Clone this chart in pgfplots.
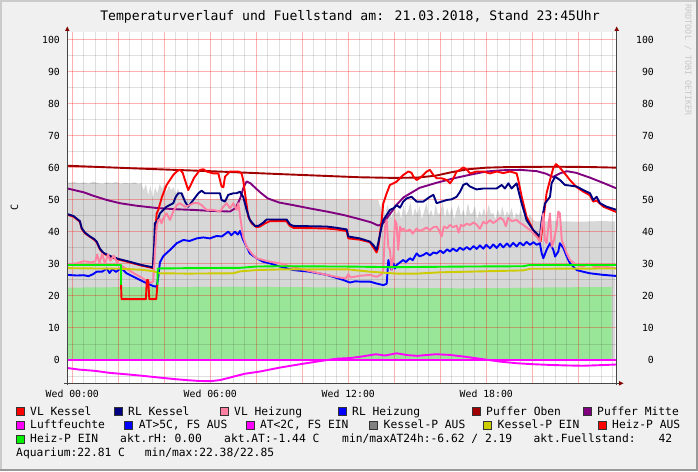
\documentclass[border=0pt]{standalone}
\usepackage{fontspec}
\setmainfont{DejaVu Sans Mono}
\usepackage{pgfplots}
\pgfplotsset{compat=1.18}
\definecolor{bgc}{RGB}{240,240,240}
\definecolor{shA}{RGB}{203,203,203}
\definecolor{shB}{RGB}{153,153,153}
\definecolor{vlk}{RGB}{255,0,0}
\definecolor{rlk}{RGB}{0,0,128}
\definecolor{vlh}{RGB}{255,128,160}
\definecolor{rlh}{RGB}{0,0,255}
\definecolor{pob}{RGB}{160,0,0}
\definecolor{pmi}{RGB}{128,0,128}
\definecolor{mag}{RGB}{255,0,255}
\definecolor{kpa}{RGB}{128,128,128}
\definecolor{kpe}{RGB}{204,204,0}
\definecolor{hpe}{RGB}{0,240,0}
\definecolor{fuell}{RGB}{215,215,215}
\definecolor{aqua}{RGB}{153,230,153}
\definecolor{arr}{RGB}{128,0,0}
\definecolor{axc}{RGB}{70,70,70}
\tikzset{L/.style={line width=1.9pt, line join=round}}
\pgfplotsset{myax/.style={at={(67.3pt,87.7pt)}, anchor=south west, scale only axis,
  width=549.4pt, height=351pt, xmin=-0.217, xmax=23.67, ymin=-7.28, ymax=102.4}}
\begin{document}
\begin{tikzpicture}
\useasboundingbox (0,0) rectangle (698pt,471pt);
\fill[bgc] (0,0) rectangle (698pt,471pt);
\fill[shA] (0,0) rectangle (2pt,471pt);
\fill[shA] (0,469pt) rectangle (698pt,471pt);
\fill[shB] (696pt,0) rectangle (698pt,471pt);
\fill[shB] (0,0) rectangle (698pt,2pt);
\fill[white] (67.3pt,87.7pt) rectangle (616.7pt,438.7pt);

\begin{axis}[myax, hide axis]
% Fuellstand (grey area)
\addplot[fill=fuell, draw=none] coordinates {
(-0.217,0) (-0.217,55.3) (0.1,55.6) (0.3,55.2) (0.5,55.5) (0.7,55.1) (0.9,55.7) (1.1,55.3) (1.3,55.0) (1.5,55.5) (1.7,55.2) (1.9,55.6) (2.1,55.0) (2.3,55.4) (2.5,55.1) (2.7,55.5) (2.9,54.9)
(3.0,55.3) (3.1,53.0) (3.2,55.0) (3.3,51.5) (3.4,54.5) (3.5,50.5) (3.6,54.0) (3.7,52.0) (3.8,55.0) (3.9,53.5) (4.0,54.8) (4.1,52.5) (4.2,54.5) (4.3,53.0) (4.4,54.0) (4.5,52.0) (4.6,53.5) (4.7,51.5) (4.8,52.5) (4.9,50.5)
(5.0,50.3) (6,50.2) (8,50.3) (10,50.2) (12,50.1) (13.0,50.1) (13.3,50.0)
(13.4,47.5) (13.5,49.5) (13.6,45.0) (13.7,48.5) (13.8,46.0) (13.9,44.5) (14.0,49.0) (14.1,45.5) (14.2,47.0) (14.3,44.0) (14.4,48.5) (14.5,45.0) (14.6,46.5) (14.7,49.5) (14.8,44.5) (14.9,47.5) (15.0,45.5) (15.1,48.0) (15.2,44.0) (15.3,46.5) (15.4,49.0) (15.5,45.0) (15.6,47.0) (15.7,44.5) (15.8,48.5) (15.9,45.5) (16.0,46.0) (16.1,49.5) (16.2,44.5) (16.3,47.5) (16.4,45.0) (16.5,48.0) (16.6,44.0) (16.7,46.5) (16.8,48.5) (16.9,45.0) (17.0,47.0) (17.1,44.5) (17.2,49.0) (17.3,45.5) (17.4,46.0) (17.5,48.0) (17.6,44.0) (17.7,46.5) (17.8,45.0) (17.9,47.5) (18.0,44.5) (18.1,48.5) (18.2,45.5) (18.3,46.0) (18.4,44.0) (18.5,47.0) (18.6,45.0) (18.7,48.0) (18.8,44.5) (18.9,46.5) (19.0,45.0) (19.1,47.5) (19.2,44.0) (19.3,46.0) (19.4,45.0) (19.5,47.0) (19.6,44.5) (19.7,46.0) (19.8,44.0) (19.9,45.5) (20.0,44.0) (20.1,43.5)
(20.2,43.3) (21,43.4) (22,43.2) (23,43.4) (23.6,43.3) (23.6,0)};
% Aquarium (green area)
\addplot[fill=aqua, draw=none] coordinates {
(-0.217,0) (-0.217,22.6) (1,22.7) (3,22.8) (5,22.8) (7,22.9) (9,22.8) (11,22.7) (13,22.6) (15,22.5) (17,22.4) (19,22.5) (21,22.7) (23.45,22.8) (23.45,0)};
\end{axis}

\begin{axis}[myax, axis line style={draw=none}, grid=both,
  major grid style={red, opacity=0.3, line width=1pt},
  minor grid style={black, opacity=0.12, line width=1pt},
  xtick={0,2,...,22},
  xticklabels={Wed 00:00,,,Wed 06:00,,,Wed 12:00,,,Wed 18:00,,},
  minor xtick={0.5,1,1.5,2.5,3,3.5,4.5,5,5.5,6.5,7,7.5,8.5,9,9.5,10.5,11,11.5,12.5,13,13.5,14.5,15,15.5,16.5,17,17.5,18.5,19,19.5,20.5,21,21.5,22.5,23,23.5},
  ytick={0,10,...,100}, minor ytick={-5,5,...,95},
  major tick length=0pt, minor tick length=0pt,
  tick label style={font=\fontsize{9.8}{11}\selectfont, inner sep=0pt, text=black},
  xticklabel style={anchor=center, yshift=-10.8pt},
  yticklabel style={anchor=east, xshift=-7.3pt},
  /pgf/number format/assume math mode=true]
% Puffer Oben
\addplot[L, pob] coordinates {(-0.217,60.7) (3,59.8) (6,59.0) (9,58.1) (12.5,57.1) (14,56.9) (15,57.0) (15.8,57.6) (16.5,58.7) (17.2,59.6) (18,60.1) (19,60.3) (21,60.4) (22.5,60.3) (23.67,60.1)};
% Puffer Mitte
\addplot[L, pmi] coordinates {(-0.217,53.6) (0.5,52.4) (0.92,51.3) (1.5,50.0) (2.07,49.0) (2.8,48.2) (3.67,47.5) (4.5,47.1) (5.26,46.9) (6.0,46.6) (6.86,46.4) (7.1,47.5) (7.3,50.5) (7.45,54.0) (7.58,55.8) (7.75,55.2) (8.0,53.5) (8.2,52.2) (8.5,50.5) (9.0,49.2) (9.6,48.4) (10.3,47.4) (11.06,46.4) (11.8,45.3) (12.5,44.0) (13.0,43.0) (13.3,42.0) (13.5,42.6) (13.8,45.5) (14.1,48.5) (14.4,50.8) (15.1,53.8) (15.8,55.3) (16.6,56.8) (17.3,57.9) (18.0,58.9) (18.7,59.3) (19.5,59.4) (20.2,59.0) (20.6,58.2) (20.9,57.2) (21.2,58.3) (21.5,59.0) (21.9,58.5) (22.5,57.0) (23.1,55.3) (23.67,53.6)};
% VL Kessel
\addplot[L, vlk] coordinates {(-0.217,45.4) (0.05,44.8) (0.19,44.0) (0.33,43.2) (0.41,41.0) (0.55,39.6) (0.77,38.5) (0.95,37.6) (1.06,36.8) (1.2,34.6) (1.35,33.3) (1.64,32.3) (2.0,31.4) (2.5,30.5) (3.0,29.5) (3.4,28.9) (3.5,28.7) (3.55,33) (3.6,40) (3.67,45.8) (3.74,46.9) (3.9,51.0) (4.1,54.7) (4.39,57.8) (4.54,58.9) (4.68,59.5) (4.8,58.5) (4.9,56.2) (5.04,53.1) (5.15,54.7) (5.3,57.0) (5.55,59.4) (5.7,59.6) (5.84,58.9) (6.13,58.3) (6.35,58.3) (6.49,54.2) (6.57,54.0) (6.64,57.3) (6.86,58.9) (7.22,58.9) (7.36,58.3) (7.43,56.2) (7.55,50.0) (7.65,44.8) (7.8,42.7) (8.01,41.5) (8.16,41.7) (8.38,42.7) (8.6,43.4) (9.3,43.4) (9.46,41.9) (9.61,41.3) (11.06,41.1) (11.5,40.8) (11.93,40.3) (12.0,38.0) (12.5,37.6) (12.94,36.8) (13.23,33.6) (13.3,35) (13.38,39.6) (13.45,43.75) (13.52,48.9) (13.67,52.1) (13.81,54.7) (13.96,55.2) (14.1,55.7) (14.25,56.8) (14.39,57.8) (14.61,58.9) (14.75,58.5) (14.83,57.3) (14.97,56.25) (15.1,56.8) (15.26,57.8) (15.41,58.9) (15.55,59.4) (15.7,57.8) (15.84,56.8) (16.06,56.8) (16.28,56.25) (16.42,55.2) (16.55,56.5) (16.71,58.9) (16.86,59.4) (17.0,60.2) (17.15,59.5) (17.29,58.3) (17.58,58.9) (17.87,58.9) (18.16,58.3) (18.45,58.9) (18.74,58.4) (19.03,58.9) (19.32,58.3) (19.39,56.25) (19.54,51.0) (19.75,44.8) (20.04,40.6) (20.26,38.5) (20.36,37.0) (20.48,43.75) (20.62,52.1) (20.77,56.25) (20.91,59.9) (21.03,61.2) (21.15,60.5) (21.28,59.4) (21.5,57.5) (21.64,56.2) (21.93,54.0) (22.22,52.6) (22.5,51.5) (22.65,49.5) (22.8,49.8) (23.09,47.9) (23.4,47.0) (23.67,46.2)};
% RL Kessel
\addplot[L, rlk] coordinates {(-0.217,45.6) (0.05,45.0) (0.19,44.2) (0.33,43.4) (0.41,41.2) (0.55,39.8) (0.77,38.6) (0.95,37.8) (1.06,37.0) (1.2,34.8) (1.35,33.5) (1.64,32.5) (2.0,31.6) (2.5,30.7) (3.0,29.7) (3.4,29.1) (3.5,28.9) (3.56,36) (3.59,42.7) (3.7,43.5) (3.81,45.8) (4.1,47.9) (4.39,49.0) (4.5,51) (4.61,52.1) (4.75,52.1) (4.9,49.5) (5.04,47.9) (5.26,50.0) (5.48,52.1) (5.62,52.9) (5.77,52.1) (6.42,52.1) (6.49,50.0) (6.64,49.5) (6.78,51.6) (7.0,52.1) (7.14,52.1) (7.29,52.6) (7.43,51.0) (7.58,46.9) (7.72,43.75) (7.94,41.9) (8.09,41.9) (8.3,42.9) (8.45,43.9) (9.32,43.9) (9.46,42.4) (9.61,41.9) (11.06,41.7) (11.5,41.3) (11.93,40.8) (12.0,38.6) (12.5,38.0) (12.94,37.0) (13.09,35.9) (13.23,34.4) (13.3,36.5) (13.45,41.7) (13.52,43.75) (13.67,45.3) (13.81,46.9) (13.96,47.4) (14.1,48.4) (14.25,47.6) (14.39,49.5) (14.54,50.5) (14.75,51.0) (14.97,49.5) (15.26,49.5) (15.55,51.0) (15.7,51.6) (15.84,49.0) (16.06,49.5) (16.28,50.0) (16.49,50.2) (16.71,51.0) (16.86,52.6) (17.0,54.7) (17.14,55.2) (17.29,54.2) (17.58,53.3) (17.87,53.6) (18.16,53.6) (18.45,53.6) (18.67,54.7) (18.81,53.6) (18.96,55.2) (19.1,53.6) (19.32,55.2) (19.39,53.1) (19.54,48.9) (19.75,43.75) (20.04,40.6) (20.19,39.6) (20.33,38.5) (20.41,43.75) (20.55,48.9) (20.77,51.0) (20.84,55.2) (20.99,57.3) (21.2,56.25) (21.42,54.7) (21.64,54.5) (21.93,54.2) (22.22,53.1) (22.51,52.1) (22.65,50.0) (22.8,51.0) (22.94,49.0) (23.23,47.9) (23.67,46.9)};
% RL Heizung
\addplot[L, rlh] coordinates {(-0.217,26.6) (0.2,26.4) (0.5,26.5) (0.7,26.2) (0.9,26.8) (1.06,27.6) (1.3,27.6) (1.5,28.6) (1.62,27.2) (1.75,28.4) (1.9,27.5) (2.12,28.8) (2.36,27.1) (2.8,25.5) (3.23,24.0) (3.52,23.1) (3.67,22.9) (3.74,26.0) (3.81,30.5) (3.96,32.5) (4.25,34.4) (4.54,36.5) (4.83,37.5) (5.1,37.2) (5.41,38.0) (5.7,38.3) (5.98,38.0) (6.27,38.75) (6.5,38.6) (6.78,40.1) (6.92,39.0) (7.07,40.1) (7.2,39.2) (7.29,40.3) (7.43,37.5) (7.58,35.4) (7.72,33.3) (8.01,31.8) (8.3,30.7) (8.59,30.2) (9.03,29.2) (9.61,28.1) (10.3,27.6) (11.06,26.6) (11.78,25.0) (12.07,24.2) (12.3,24.6) (12.5,24.5) (12.94,24.5) (13.23,23.9) (13.52,23.4) (13.67,23.8) (13.74,31.25) (13.81,29.5) (13.88,28.1) (13.96,30.2) (14.03,28.6) (14.1,29.7) (14.39,31.25) (14.5,30.6) (14.68,31.8) (14.8,31.2) (14.97,33.3) (15.1,32.4) (15.26,32.8) (15.4,33.5) (15.55,32.7) (15.7,33.6) (15.84,33.3) (16.0,34.2) (16.13,33.4) (16.3,34.6) (16.42,33.9) (16.55,34.8) (16.71,34.0) (16.85,35.1) (17.0,34.4) (17.15,35.3) (17.29,34.5) (17.45,35.6) (17.58,34.7) (17.72,35.8) (17.87,34.8) (18.0,36.0) (18.16,34.9) (18.3,36.1) (18.45,35.0) (18.6,36.3) (18.74,35.2) (18.9,36.4) (19.03,35.4) (19.17,36.6) (19.32,35.5) (19.46,36.7) (19.61,35.8) (19.75,36.9) (19.9,36.0) (20.05,36.8) (20.19,36.0) (20.33,36.5) (20.41,33.3) (20.48,31.8) (20.62,34.4) (20.77,36.5) (20.91,34.5) (20.99,32.3) (21.13,33.9) (21.2,36.5) (21.35,35.0) (21.5,32.3) (21.64,30.2) (21.93,28.1) (22.2,27.6) (22.5,27.1) (23.09,26.6) (23.67,26.25)};
% VL Heizung
\addplot[L, vlh] coordinates {(-0.217,29.9) (0.2,30.2) (0.5,30.9) (0.8,30.5) (1.0,30.8) (1.08,33.0) (1.18,30.2) (1.3,33.2) (1.42,30.0) (1.55,33.0) (1.65,31.0) (1.8,32.6) (1.95,30.4) (2.1,29.6) (2.4,28.3) (2.7,27.0) (3.0,25.8) (3.25,24.6) (3.4,24.1) (3.52,24.6) (3.59,33.3) (3.67,41.7) (3.74,43.75) (3.81,44.0) (3.88,42.7) (3.96,44.3) (4.1,45.8) (4.25,43.75) (4.39,46.4) (4.54,48.4) (4.68,49.0) (4.9,47.9) (5.12,48.4) (5.26,49.0) (5.48,49.0) (5.62,48.4) (5.84,46.9) (6.13,46.9) (6.42,46.4) (6.57,47.9) (6.71,49.0) (6.86,47.4) (7.0,49.0) (7.14,46.9) (7.22,49.0) (7.29,45.3) (7.36,41.7) (7.43,38.5) (7.58,35.4) (7.8,33.3) (8.01,31.8) (8.3,31.25) (8.59,30.7) (9.03,30.2) (9.61,29.0) (10.3,27.8) (11.06,26.6) (11.6,25.8) (11.9,25.5) (12.0,26.8) (12.1,25.8) (12.5,26.3) (12.94,26.6) (13.23,26.0) (13.45,26.8) (13.52,28.1) (13.6,41.7) (13.67,43.75) (13.74,35.4) (13.81,34.5) (13.88,28.1) (13.96,32.5) (14.03,43.75) (14.1,42.5) (14.17,34.4) (14.25,41.7) (14.32,40.5) (14.39,41.1) (14.5,40.2) (14.68,40.8) (14.8,39.5) (14.97,41.1) (15.1,40.3) (15.26,40.8) (15.4,41.4) (15.55,40.6) (15.7,41.5) (15.84,41.7) (15.95,40.5) (16.06,38.6) (16.15,41.7) (16.3,41.2) (16.42,42.2) (16.55,41.5) (16.71,42.0) (16.8,39.8) (16.9,42.3) (17.0,41.8) (17.15,42.6) (17.29,42.2) (17.45,43.0) (17.58,42.3) (17.72,41.0) (17.87,43.2) (18.0,42.6) (18.16,43.75) (18.3,42.8) (18.45,43.5) (18.6,44.5) (18.74,43.8) (18.85,41.8) (18.95,44.4) (19.1,43.4) (19.32,43.75) (19.45,42.9) (19.61,42.2) (19.9,40.6) (20.19,38.5) (20.33,37.0) (20.41,41.7) (20.48,45.8) (20.55,37.5) (20.62,36.5) (20.7,41.7) (20.77,45.8) (20.84,35.4) (20.91,36.5) (21.06,41.7) (21.13,46.4) (21.2,45.8) (21.28,37.5) (21.5,33.3) (21.64,31.25) (21.93,29.7) (22.2,29.2) (22.5,30.2) (22.7,29.0) (23.1,29.2) (23.67,28.6)};
% Kessel-P EIN
\addplot[L, kpe] coordinates {(-0.217,28.7) (1.0,28.6) (2.12,28.5) (3.0,28.2) (3.5,27.8) (3.8,27.1) (5,27.0) (7.0,27.1) (7.3,27.7) (8,28.1) (9,28.3) (12,28.3) (12.94,27.6) (14.1,27.0) (15.0,27.0) (16,27.4) (19.6,28.0) (19.9,28.5) (23.67,28.6)};
% Heiz-P EIN
\addplot[L, hpe] coordinates {(-0.217,29.7) (2.12,29.7) (2.12,23.5)};
\addplot[L, hpe] coordinates {(3.7,23.5) (3.72,28.6) (5,28.7) (7.3,28.8) (8,29.2) (9,29.3) (12,29.2) (14,29.0) (17,29.2) (19.6,29.3) (19.9,29.7) (23.67,29.7)};
% Heiz-P AUS
\addplot[L, vlk] coordinates {(2.12,23.5) (2.14,19.0) (3.2,19.0) (3.24,25.0) (3.3,25.0) (3.35,19.0) (3.65,19.0) (3.7,23.5)};
% Luftfeuchte
\addplot[L, mag] coordinates {(-0.217,0) (23.67,0)};
% AT
\addplot[L, mag] coordinates {(-0.217,-2.5) (0.3,-3.0) (1.0,-3.4) (1.6,-4.0) (2.4,-4.5) (3.0,-4.9) (3.8,-5.5) (4.5,-6.0) (5.0,-6.3) (5.5,-6.55) (6.0,-6.62) (6.4,-6.3) (6.8,-5.6) (7.0,-5.2) (7.5,-4.3) (8.16,-3.6) (9.0,-2.4) (10.0,-1.2) (11.0,-0.1) (11.5,0.4) (12.07,0.6) (12.5,1.0) (13.2,1.8) (13.6,1.4) (14.1,2.1) (14.6,1.5) (15.0,1.3) (15.8,1.8) (16.4,1.6) (17.1,1.0) (17.9,0.2) (18.6,-0.5) (19.3,-1.0) (20.0,-1.3) (20.8,-1.55) (21.5,-1.7) (22.2,-1.8) (23.0,-1.6) (23.67,-1.4)};
\end{axis}

\begin{axis}[myax, axis line style={draw=none}, xtick=\empty,
  ytick={0,10,...,100}, yticklabel pos=right,
  major tick length=0pt,
  tick label style={font=\fontsize{9.8}{11}\selectfont, inner sep=0pt, text=black},
  yticklabel style={anchor=east, xshift=37.3pt},
  /pgf/number format/assume math mode=true]
\addplot[draw=none] coordinates {(0,0)};
\end{axis}

% axis lines and arrows
\draw[axc, line width=1pt] (67.3pt,85.5pt) -- (67.3pt,440pt);
\draw[axc, line width=1pt] (616.7pt,85.5pt) -- (616.7pt,440pt);
\draw[axc, line width=1pt] (64pt,87.7pt) -- (619pt,87.7pt);
\fill[arr] (65pt,440pt) -- (69.6pt,440pt) -- (67.3pt,444.5pt) -- cycle;
\fill[arr] (614.4pt,440pt) -- (619pt,440pt) -- (616.7pt,444.5pt) -- cycle;
\fill[arr] (619pt,90pt) -- (619pt,85.4pt) -- (623.5pt,87.7pt) -- cycle;

% title and labels
\node[anchor=base, inner sep=0pt, font=\fontsize{13.1}{15}\selectfont] at (350pt,450.3pt) {Temperaturverlauf und Fuellstand am: 21.03.2018, Stand 23:45Uhr};
\node[rotate=90, inner sep=0pt, font=\fontsize{10}{12}\selectfont] at (14.5pt,264pt) {C};
\node[rotate=-90, anchor=west, inner sep=0pt, text=black!22, font=\fontsize{8.4}{10}\selectfont] at (688pt,466.5pt) {RRDTOOL / TOBI OETIKER};

% legend
\newcommand{\lsq}[3]{\filldraw[fill=#3, draw=black!80, line width=0.5pt] (#1pt,#2pt) ++(0,-4pt) rectangle ++(8pt,8pt);}
\newcommand{\ltx}[3]{\node[anchor=base west, inner sep=0pt, font=\fontsize{11.3}{13}\selectfont] at (#1pt,#2pt) {#3};}
\lsq{16}{59.3}{vlk}\ltx{30}{55.8}{VL Kessel}
\lsq{114}{59.3}{rlk}\ltx{128}{55.8}{RL Kessel}
\lsq{220}{59.3}{vlh}\ltx{234}{55.8}{VL Heizung}
\lsq{338}{59.3}{rlh}\ltx{352}{55.8}{RL Heizung}
\lsq{472}{59.3}{pob}\ltx{486}{55.8}{Puffer Oben}
\lsq{583}{59.3}{pmi}\ltx{597}{55.8}{Puffer Mitte}
\lsq{16}{45.6}{mag}\ltx{30}{42.1}{Luftfeuchte}
\lsq{124.7}{45.6}{rlh}\ltx{138.7}{42.1}{AT>5C, FS AUS}
\lsq{245.8}{45.6}{mag}\ltx{259.8}{42.1}{AT<2C, FS EIN}
\lsq{369.5}{45.6}{kpa}\ltx{383.5}{42.1}{Kessel-P AUS}
\lsq{483.5}{45.6}{kpe}\ltx{497.5}{42.1}{Kessel-P EIN}
\lsq{598}{45.6}{vlk}\ltx{612}{42.1}{Heiz-P AUS}
\lsq{16}{31.9}{hpe}\ltx{30}{28.4}{Heiz-P EIN}
\ltx{120}{28.4}{akt.rH: 0.00}
\ltx{224}{28.4}{akt.AT:-1.44 C}
\ltx{342}{28.4}{min/maxAT24h:-6.62 / 2.19}
\ltx{533.4}{28.4}{akt.Fuellstand:}
\node[anchor=base east, inner sep=0pt, font=\fontsize{11.3}{13}\selectfont] at (672.3pt,28.4pt) {42};
\ltx{16}{14.7}{Aquarium:22.81 C}
\ltx{144.7}{14.7}{min/max:22.38/22.85}
\end{tikzpicture}
\end{document}
